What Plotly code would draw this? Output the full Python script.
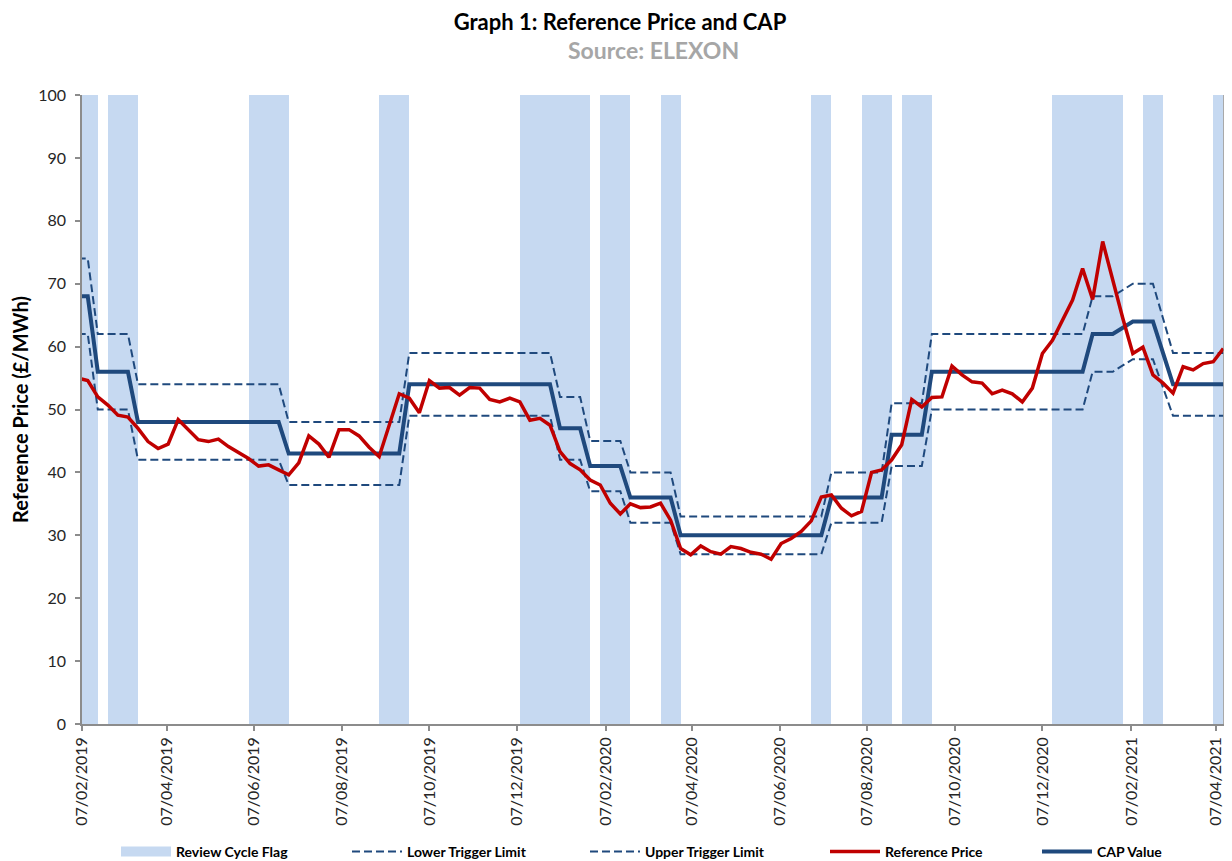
import pandas as pd
import plotly.graph_objects as go

# Weekly review dates (Mondays)
WEEKS = pd.date_range("2019-02-04", periods=115, freq="7D")

REVIEW_FLAG = [
    1, 1, 0, 1, 1, 1, 0, 0, 0, 0, 0, 0, 0, 0, 0, 0, 0, 1, 1, 1,
    1, 0, 0, 0, 0, 0, 0, 0, 0, 0, 1, 1, 1, 0, 0, 0, 0, 0, 0, 0,
    0, 0, 0, 0, 1, 1, 1, 1, 1, 1, 1, 0, 1, 1, 1, 0, 0, 0, 1, 1,
    0, 0, 0, 0, 0, 0, 0, 0, 0, 0, 0, 0, 0, 1, 1, 0, 0, 0, 1, 1,
    1, 0, 1, 1, 1, 0, 0, 0, 0, 0, 0, 0, 0, 0, 0, 0, 0, 1, 1, 1,
    1, 1, 1, 1, 0, 0, 1, 1, 0, 0, 0, 0, 0, 1, 0,
]

REFERENCE_PRICE = [
    55.0, 54.6, 52.0, 50.7, 49.1, 48.8, 47.0, 44.9, 43.8, 44.5,
    48.4, 46.7, 45.2, 44.9, 45.3, 44.1, 43.1, 42.2, 41.0, 41.2,
    40.4, 39.6, 41.5, 45.8, 44.5, 42.4, 46.8, 46.8, 45.8, 44.0,
    42.5, 47.5, 52.5, 51.8, 49.5, 54.6, 53.4, 53.5, 52.3, 53.5,
    53.4, 51.6, 51.2, 51.8, 51.2, 48.3, 48.6, 47.5, 43.3, 41.4,
    40.4, 38.8, 38.0, 35.1, 33.4, 35.0, 34.4, 34.5, 35.1, 32.4,
    27.9, 26.9, 28.3, 27.4, 27.0, 28.2, 27.9, 27.3, 27.0, 26.2,
    28.7, 29.5, 30.6, 32.3, 36.1, 36.4, 34.3, 33.1, 33.8, 40.0,
    40.4, 42.0, 44.4, 51.6, 50.4, 51.9, 52.0, 56.9, 55.5, 54.4,
    54.2, 52.5, 53.1, 52.5, 51.2, 53.4, 58.9, 61.0, 64.2, 67.4,
    72.4, 67.5, 76.7, 70.5, 64.5, 58.9, 59.9, 55.5, 54.2, 52.6,
    56.8, 56.3, 57.3, 57.6, 59.7,
]

CAP_VALUE = [
    68, 68, 56, 56, 56, 56, 48, 48, 48, 48,
    48, 48, 48, 48, 48, 48, 48, 48, 48, 48,
    48, 43, 43, 43, 43, 43, 43, 43, 43, 43,
    43, 43, 43, 54, 54, 54, 54, 54, 54, 54,
    54, 54, 54, 54, 54, 54, 54, 54, 47, 47,
    47, 41, 41, 41, 41, 36, 36, 36, 36, 36,
    30, 30, 30, 30, 30, 30, 30, 30, 30, 30,
    30, 30, 30, 30, 30, 36, 36, 36, 36, 36,
    36, 46, 46, 46, 46, 56, 56, 56, 56, 56,
    56, 56, 56, 56, 56, 56, 56, 56, 56, 56,
    56, 62, 62, 62, 63, 64, 64, 64, 59, 54,
    54, 54, 54, 54, 54,
]

UPPER_TRIGGER = [
    74, 74, 62, 62, 62, 62, 54, 54, 54, 54,
    54, 54, 54, 54, 54, 54, 54, 54, 54, 54,
    54, 48, 48, 48, 48, 48, 48, 48, 48, 48,
    48, 48, 48, 59, 59, 59, 59, 59, 59, 59,
    59, 59, 59, 59, 59, 59, 59, 59, 52, 52,
    52, 45, 45, 45, 45, 40, 40, 40, 40, 40,
    33, 33, 33, 33, 33, 33, 33, 33, 33, 33,
    33, 33, 33, 33, 33, 40, 40, 40, 40, 40,
    40, 51, 51, 51, 51, 62, 62, 62, 62, 62,
    62, 62, 62, 62, 62, 62, 62, 62, 62, 62,
    62, 68, 68, 68, 69, 70, 70, 70, 64.5, 59,
    59, 59, 59, 59, 59,
]

LOWER_TRIGGER = [
    62, 62, 50, 50, 50, 50, 42, 42, 42, 42,
    42, 42, 42, 42, 42, 42, 42, 42, 42, 42,
    42, 38, 38, 38, 38, 38, 38, 38, 38, 38,
    38, 38, 38, 49, 49, 49, 49, 49, 49, 49,
    49, 49, 49, 49, 49, 49, 49, 49, 42, 42,
    42, 37, 37, 37, 37, 32, 32, 32, 32, 32,
    27, 27, 27, 27, 27, 27, 27, 27, 27, 27,
    27, 27, 27, 27, 27, 32, 32, 32, 32, 32,
    32, 41, 41, 41, 41, 50, 50, 50, 50, 50,
    50, 50, 50, 50, 50, 50, 50, 50, 50, 50,
    50, 56, 56, 56, 57, 58, 58, 58, 53.5, 49,
    49, 49, 49, 49, 49,
]

TICK_DATES = [
    "2019-02-07", "2019-04-07", "2019-06-07", "2019-08-07", "2019-10-07",
    "2019-12-07", "2020-02-07", "2020-04-07", "2020-06-07", "2020-08-07",
    "2020-10-07", "2020-12-07", "2021-02-07", "2021-04-07",
]
TICK_LABELS = [
    "07/02/2019", "07/04/2019", "07/06/2019", "07/08/2019", "07/10/2019",
    "07/12/2019", "07/02/2020", "07/04/2020", "07/06/2020", "07/08/2020",
    "07/10/2020", "07/12/2020", "07/02/2021", "07/04/2021",
]

FONT = "Lato"
BAND = "#C6D9F1"
NAVY = "#1F497D"
RED = "#C00000"
AXIS_GREY = "#8C8C8C"
WEEK_MS = 7 * 24 * 3600 * 1000
# the page body adds an 8px offset, so the figure is drawn 8px smaller
W, H = 1224, 853
PLOT_TOP, PLOT_BOTTOM = 87, 716

fig = go.Figure()

fig.add_trace(go.Bar(
    x=WEEKS, y=[100 if f else None for f in REVIEW_FLAG],
    width=WEEK_MS, offset=0,
    marker=dict(color=BAND, line=dict(width=0)),
    name="Review Cycle Flag", showlegend=False,
))
# legend swatch for the review-cycle bands (wide block like the original key)
fig.add_trace(go.Scatter(
    x=[None], y=[None], mode="lines", name="Review Cycle Flag",
    line=dict(color=BAND, width=15), legend="legend", hoverinfo="skip",
))
fig.add_trace(go.Scatter(
    x=WEEKS, y=LOWER_TRIGGER, mode="lines", name="Lower Trigger Limit",
    line=dict(color=NAVY, width=2, dash="8px,4px"), legend="legend2",
))
fig.add_trace(go.Scatter(
    x=WEEKS, y=UPPER_TRIGGER, mode="lines", name="Upper Trigger Limit",
    line=dict(color=NAVY, width=2, dash="8px,4px"), legend="legend3",
))
fig.add_trace(go.Scatter(
    x=WEEKS, y=CAP_VALUE, mode="lines", name="CAP Value",
    line=dict(color=NAVY, width=4), legend="legend5",
))
fig.add_trace(go.Scatter(
    x=WEEKS, y=REFERENCE_PRICE, mode="lines", name="Reference Price",
    line=dict(color=RED, width=3.5), legend="legend4",
))


def legend_at(px_left):
    return dict(
        orientation="h", xref="container", yref="container",
        x=px_left / W, xanchor="left", y=1 - 844 / H, yanchor="middle",
        font=dict(family=FONT, size=14, color="black", weight="bold"),
        itemwidth=50, bgcolor="rgba(0,0,0,0)",
    )


fig.update_layout(
    width=W, height=H,
    margin=dict(l=74, r=8, t=PLOT_TOP, b=H - PLOT_BOTTOM),
    paper_bgcolor="white", plot_bgcolor="white",
    font=dict(family=FONT, color="#262626"),
    bargap=0,
    title=dict(
        text="<b>Graph 1: Reference Price and CAP</b>",
        x=0.5, xref="container", xanchor="center",
        y=1 - 14.5 / H, yref="container", yanchor="middle",
        font=dict(family=FONT, size=22, color="black"),
    ),
    annotations=[dict(
        text="<b>Source: ELEXON</b>", xref="paper", yref="paper",
        x=0.5, y=(PLOT_BOTTOM - 42) / (PLOT_BOTTOM - PLOT_TOP),
        xanchor="center", yanchor="middle",
        showarrow=False, font=dict(family=FONT, size=23, color="#A6A6A6"),
    )],
    shapes=[dict(
        type="line", xref="paper", yref="paper", x0=1, x1=1, y0=0, y1=1,
        line=dict(color=AXIS_GREY, width=1.5), layer="above",
    )],
    showlegend=True,
    legend=legend_at(108),
    legend2=legend_at(339),
    legend3=legend_at(577),
    legend4=legend_at(817),
    legend5=legend_at(1029),
)

fig.update_xaxes(
    type="date", automargin=False,
    range=["2019-02-07", "2021-04-12 12:00"],
    tickmode="array", tickvals=TICK_DATES, ticktext=TICK_LABELS,
    tickangle=-90, tickfont=dict(family=FONT, size=16, color="#262626"),
    showline=True, linecolor=AXIS_GREY, linewidth=1.5,
    ticks="outside", ticklen=5, tickcolor=AXIS_GREY, tickwidth=1.5,
    showgrid=False, zeroline=False,
)
fig.update_yaxes(
    automargin=False,
    range=[0, 100], tickmode="linear", tick0=0, dtick=10,
    tickfont=dict(family=FONT, size=16, color="#262626"),
    showline=True, linecolor=AXIS_GREY, linewidth=1.5,
    ticks="outside", ticklen=5, tickcolor=AXIS_GREY, tickwidth=1.5,
    ticklabelstandoff=6,
    showgrid=False, zeroline=False,
    title=dict(text="<b>Reference Price (£/MWh)</b>", standoff=14,
               font=dict(family=FONT, size=20, color="black")),
)

fig.write_html("out.html")
